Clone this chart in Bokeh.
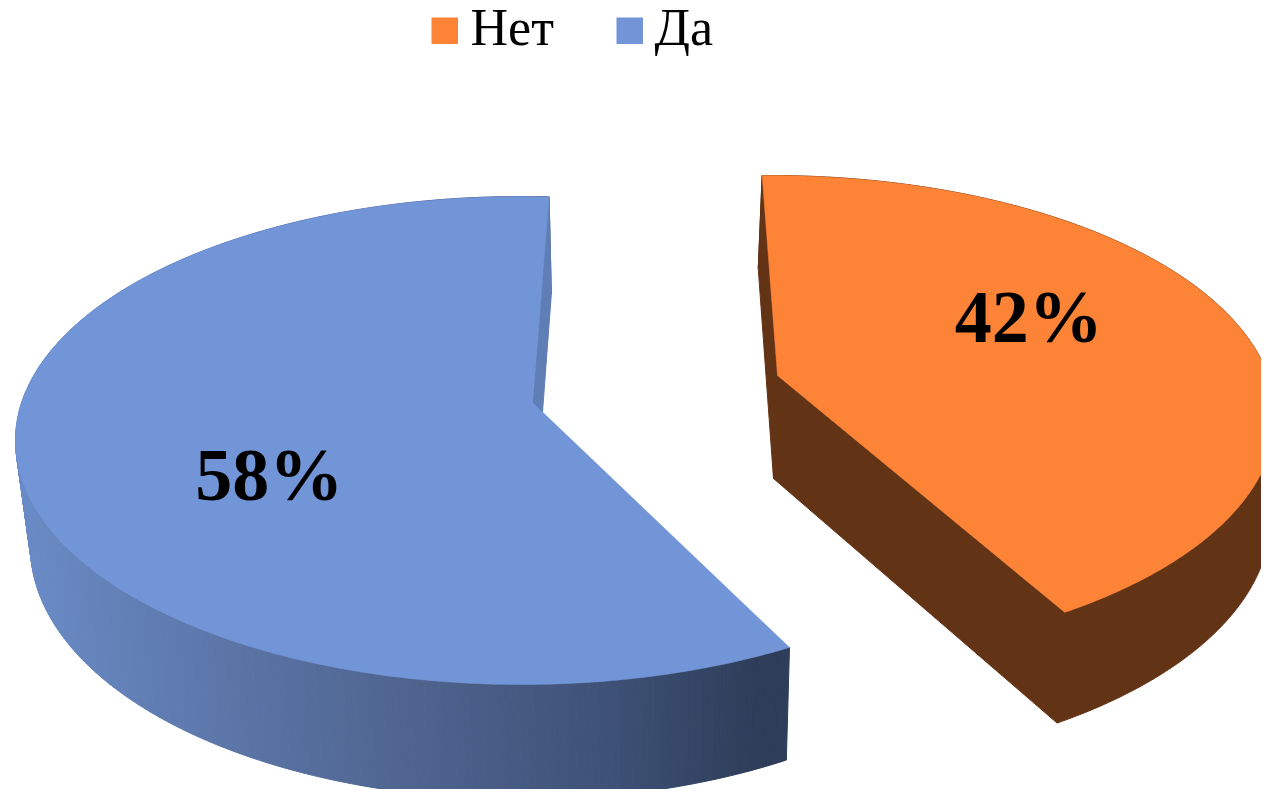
import numpy as np
from bokeh.plotting import figure
from bokeh.models import Range1d
from bokeh.core.properties import value
from bokeh.embed import file_html
from bokeh.resources import INLINE

# data
categories = ["Нет", "Да"]
shares = [42, 58]
labels = ["42%", "58%"]

# style and layout
COLORS = ["#FD8437", "#7295D8"]
FONT = "Liberation Serif"
START_DEG = 89.5
ANGLE_TWEAK = [2.5, -1.8]
SWEEP_SCALE = [1.0075, 1.0]
BROWN = "#633316"
BLUE_INNER = "#5F7EB6"
GRAD_X = [20, 200, 400, 600, 760]
GRAD_R = [0x6A, 0x5D, 0x50, 0x3F, 0x2E]
GRAD_G = [0x8B, 0x78, 0x65, 0x53, 0x3D]
GRAD_B = [0xC6, 0xAB, 0x90, 0x78, 0x59]
# ellipse: cx, cy, rx, ry, projected centre x, y
TOP = [(770, 416, 505, 241, 777, 375), (521, 440, 506, 244, 532, 402)]
LOW = [(768, 518, 502, 250, 773, 478), (522, 546, 492, 253, 535, 505)]
LABEL_R = 0.57
LABEL_OFF = [(-11.5, -22), (24, 43)]
LEG_X = [431, 616]
LEG_TX = [470, 654]


def project(theta_deg, r, ell):
    cx, cy, rx, ry, ax, ay = ell
    t = np.radians(theta_deg)
    qx, qy = r * np.cos(t), r * np.sin(t)
    px, py = (ax - cx) / rx, (cy - ay) / ry
    d = np.hypot(px, py)
    ux, uy = px / d, py / d
    a = qx * ux + qy * uy
    bx, by = qx - a * ux, qy - a * uy
    den = 1 + d * a
    a2 = (a + d) / den
    k = np.sqrt(1 - d * d) / den
    return cx + rx * (a2 * ux + k * bx), cy - ry * (a2 * uy + k * by)


p = figure(width=1261, height=789, output_backend="svg", toolbar_location=None,
           x_range=Range1d(0, 1261), y_range=Range1d(789, 0), min_border=0)
p.axis.visible = False
p.grid.visible = False
p.outline_line_color = None
p.background_fill_color = "white"

# slice angle ranges, clockwise from start
ends = np.cumsum(shares) / np.sum(shares) * 360
starts = np.r_[0, ends[:-1]]
theta = [np.linspace(START_DEG + w - s, START_DEG + w - s - (e - s) * k, 300)
         for s, e, w, k in zip(starts, ends, ANGLE_TWEAK, SWEEP_SCALE)]

# orange walls
i = 0
ux, uy = project(theta[i], 1, TOP[i])
lx, ly = project(theta[i], 1, LOW[i])
p.patch(list(ux) + list(lx[::-1]), list(uy) + list(ly[::-1]), fill_color=BROWN, line_color=BROWN)
p.patch([TOP[i][4], ux[0], lx[0], LOW[i][4]], [TOP[i][5], uy[0], ly[0], LOW[i][5]], fill_color=BROWN, line_color=BROWN)
p.patch([TOP[i][4], ux[-1], lx[-1], LOW[i][4]], [TOP[i][5], uy[-1], ly[-1], LOW[i][5]], fill_color=BROWN, line_color=BROWN)
p.patch([TOP[i][4]] + list(ux), [TOP[i][5]] + list(uy), fill_color=COLORS[i], line_color=COLORS[i], line_width=0.5)

# blue walls
i = 1
ux, uy = project(theta[i], 1, TOP[i])
lx, ly = project(theta[i], 1, LOW[i])
xs, ys, cs = [], [], []
for j in range(len(ux) - 1):
    xs.append([ux[j], ux[j + 1], lx[j + 1], lx[j]])
    ys.append([uy[j], uy[j + 1], ly[j + 1], ly[j]])
    m = (ux[j] + ux[j + 1]) / 2
    cs.append("#%02x%02x%02x" % tuple(int(np.interp(m, GRAD_X, c)) for c in (GRAD_R, GRAD_G, GRAD_B)))
p.patches(xs, ys, fill_color=cs, line_color=cs, line_width=1)
p.patch([TOP[i][4], ux[-1], lx[-1], LOW[i][4]], [TOP[i][5], uy[-1], ly[-1], LOW[i][5]], fill_color=BLUE_INNER, line_color=BLUE_INNER)
p.patch([TOP[i][4]] + list(ux), [TOP[i][5]] + list(uy), fill_color=COLORS[i], line_color=COLORS[i], line_width=0.5)

# data labels
for i, lab in enumerate(labels):
    mid = START_DEG + ANGLE_TWEAK[i] - (starts[i] + ends[i]) / 2
    x, y = project(mid, LABEL_R, TOP[i])
    p.text([x + LABEL_OFF[i][0]], [y + LABEL_OFF[i][1]], text=[lab], text_font=value(FONT),
           text_font_size="74px", text_font_style="bold", text_color="black",
           text_align="center", text_baseline="middle")

# legend
for i, name in enumerate(categories):
    p.quad(left=[LEG_X[i]], right=[LEG_X[i] + 26.5], top=[17], bottom=[43.5],
           fill_color=COLORS[i], line_color=None)
    p.text([LEG_TX[i]], [27], text=[name], text_font=value(FONT), text_font_size="52px",
           text_color="black", text_align="left", text_baseline="middle")

open("out.html", "w").write(file_html(p, INLINE))
